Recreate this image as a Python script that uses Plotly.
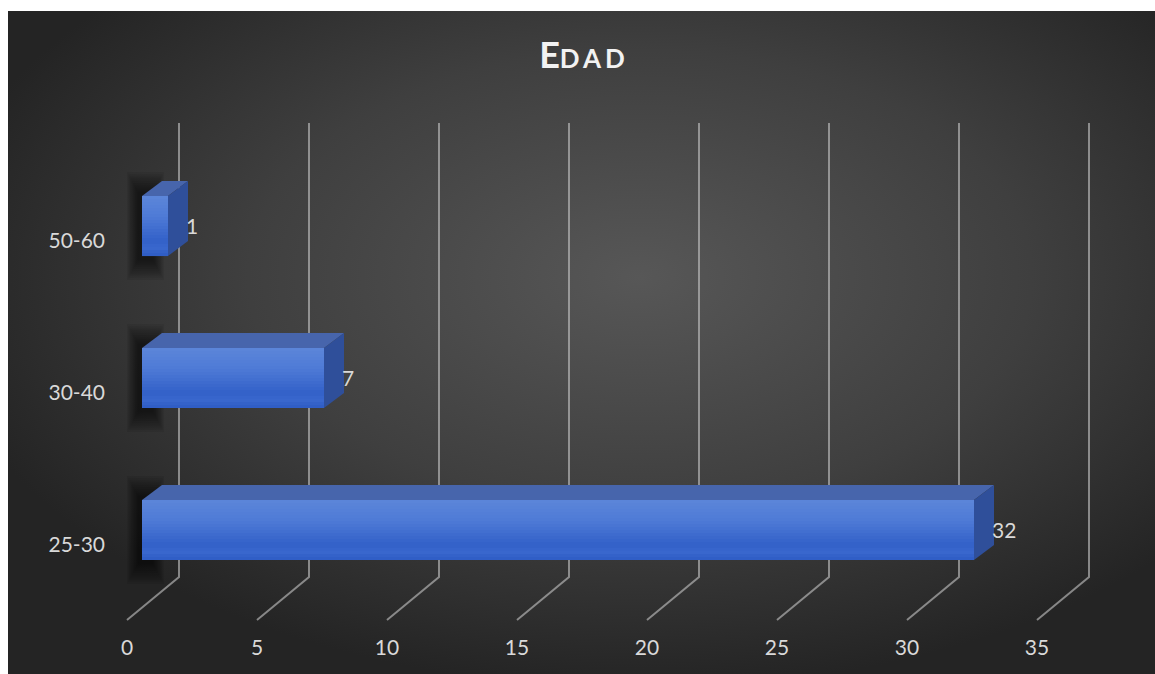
import base64
import plotly.graph_objects as go

# ---------------- data ----------------
categories = ["25-30", "30-40", "50-60"]
values = [32, 7, 1]
x_ticks = [0, 5, 10, 15, 20, 25, 30, 35]
x_tick_labels = ["0", "5", "10", "15", "20", "25", "30", "35"]
title_first = "E"
title_rest = "DAD"

# ---------------- geometry / style (pixel targets in window coordinates) ----------------
W, H = 1155, 674
L, R, T, B = 112, 20, 98, 41
PXU = 26.0      # pixels per value unit
PXC = 152.0     # pixels per category
X0 = 142        # pixel x of value 0 on bar front plane
Y0 = 530        # pixel y of first category centre
BG_X, BG_Y = 8, 11   # top-left corner of the dark chart area

def ux(px):
    return px / PXU

def uy(px):
    return px / PXC

xr = [(L - X0) / PXU, (W - R - X0) / PXU]
yr = [(Y0 - (H - B)) / PXC, (Y0 - T) / PXC]

FONT = "Lato, 'Open Sans', sans-serif"
TXT = "#d9d9d9"
half = uy(30)
dxb, dyb = ux(20), uy(15)

fig = go.Figure()

# back-wall gridlines + floor diagonals
gx, gy = [], []
for v in x_ticks:
    gx += [v + ux(37), v + ux(37), v + ux(-15), None]
    gy += [uy(407), uy(-47), uy(-90), None]
fig.add_trace(go.Scatter(x=gx, y=gy, mode="lines",
                         line=dict(color="rgba(195,195,195,0.62)", width=2),
                         hoverinfo="skip", showlegend=False))

ypos = list(range(len(categories)))

# soft blurred shadows behind the bars
NL = 10
for i in ypos:
    for k in range(NL):
        x0s = -ux(15 - 1.2 * k)
        x1s = ux(22 - 1.2 * k)
        yb = i - half - uy(24 - 2.2 * k)
        yt = i + half + uy(24 - 2.2 * k)
        fig.add_trace(go.Scatter(x=[x0s, x1s, x1s, x0s, x0s], y=[yb, yb, yt, yt, yb],
                                 fill="toself", fillcolor="rgba(0,0,0,0.07)",
                                 line=dict(width=0), mode="lines",
                                 hoverinfo="skip", showlegend=False))

# top and side faces
for i, v in zip(ypos, values):
    fig.add_trace(go.Scatter(
        x=[0, v, v + dxb, dxb, 0],
        y=[i + half, i + half, i + half + dyb, i + half + dyb, i + half],
        fill="toself", fillcolor="#4765ac", line=dict(width=0), mode="lines",
        hoverinfo="skip", showlegend=False))
    fig.add_trace(go.Scatter(
        x=[v, v + dxb, v + dxb, v, v],
        y=[i + half, i + half + dyb, i - half + dyb, i - half, i + half],
        fill="toself", fillcolor="#2f4f9a", line=dict(width=0), mode="lines",
        hoverinfo="skip", showlegend=False))

# front faces
fig.add_trace(go.Bar(x=values, y=ypos, orientation="h", width=2 * half,
                     marker=dict(color="#416fd0", line=dict(width=0)),
                     hoverinfo="skip", showlegend=False))

# smooth vertical gradient on the front faces
stops = [(0.0, (92, 134, 217)), (0.35, (78, 122, 214)), (0.75, (50, 96, 200)),
         (0.86, (58, 104, 206)), (1.0, (46, 92, 196))]

def col_at(t):
    for (t0, c0), (t1, c1) in zip(stops[:-1], stops[1:]):
        if t0 <= t <= t1:
            f = (t - t0) / (t1 - t0)
            return "rgb(%d,%d,%d)" % tuple(round(a + (b - a) * f) for a, b in zip(c0, c1))
    return "rgb(%d,%d,%d)" % stops[-1][1]

NS = 20
for i, v in zip(ypos, values):
    for s in range(NS):
        ytop = i + half - 2 * half * s / NS
        ybot = i + half - 2 * half * (s + 1) / NS - 0.0005
        fig.add_trace(go.Scatter(
            x=[0, v, v, 0, 0], y=[ytop, ytop, ybot, ybot, ytop],
            fill="toself", fillcolor=col_at((s + 0.5) / NS), line=dict(width=0),
            mode="lines", hoverinfo="skip", showlegend=False))

# data labels
for i, v in zip(ypos, values):
    fig.add_annotation(x=v, y=i, text=str(v), showarrow=False, xanchor="left",
                       xshift=16, yshift=1,
                       font=dict(family=FONT, size=21, color=TXT))

# background gradient image
IW, IH = W - BG_X, H - BG_Y
svg = (f"<svg xmlns='http://www.w3.org/2000/svg' width='{IW}' height='{IH}' "
       "preserveAspectRatio='none'><defs><radialGradient id='g' cx='0.55' cy='0.4' r='0.62'>"
       "<stop offset='0' stop-color='#575757'/><stop offset='0.55' stop-color='#3f3f3f'/>"
       "<stop offset='1' stop-color='#242424'/></radialGradient></defs>"
       f"<rect width='{IW}' height='{IH}' fill='url(#g)'/></svg>")
src = "data:image/svg+xml;base64," + base64.b64encode(svg.encode()).decode()
pw, ph = W - L - R, H - T - B
fig.add_layout_image(source=src, xref="paper", yref="paper",
                     x=(BG_X - L) / pw, y=((H - B) - BG_Y) / ph,
                     sizex=(IW + 2) / pw, sizey=(IH + 2) / ph,
                     xanchor="left", yanchor="top", sizing="stretch", layer="below")

fig.update_layout(
    width=W, height=H,
    margin=dict(l=L, r=R, t=T, b=B, pad=0),
    paper_bgcolor="white", plot_bgcolor="rgba(0,0,0,0)",
    barmode="overlay", showlegend=False, hovermode=False,
    title=dict(
        text=(f"<b><span style='font-size:36px'>{title_first}</span>"
              f"<span style='letter-spacing:4px'>{title_rest}</span></b>"),
        font=dict(family=FONT, size=26, color="#f2f2f2"),
        x=584 / W, xanchor="center", xref="container",
        y=1 - 59 / H, yanchor="middle", yref="container"),
    xaxis=dict(range=xr, tickvals=x_ticks, ticktext=x_tick_labels,
               showgrid=False, zeroline=False, showline=False,
               ticks="", ticklabelshift=-15,
               tickfont=dict(family=FONT, size=21, color=TXT), fixedrange=True),
    yaxis=dict(range=yr, tickvals=ypos, ticktext=categories,
               showgrid=False, zeroline=False, showline=False,
               ticks="", ticklabelshift=15, ticklabelstandoff=6,
               tickfont=dict(family=FONT, size=21, color=TXT), fixedrange=True),
)

fig.write_html(
    "out.html",
    config={"displayModeBar": False, "staticPlot": True},
    post_script=("document.body.style.margin='0';"
                 "document.documentElement.style.overflow='hidden';"),
)
